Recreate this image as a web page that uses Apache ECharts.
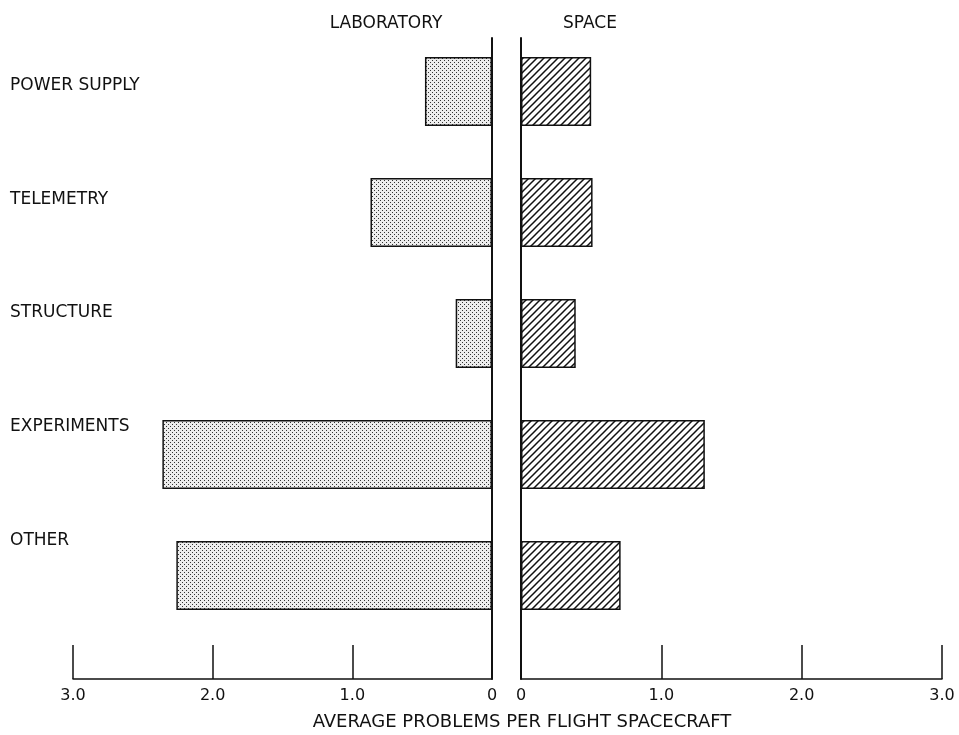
<!DOCTYPE html>
<html>
<head>
<meta charset="utf-8">
<script src="https://cdn.jsdelivr.net/npm/echarts@6/dist/echarts.min.js"></script>
<style>
html,body{margin:0;padding:0;background:#fff;}
#chart{width:959px;height:735px;}
</style>
</head>
<body>
<div id="chart"></div>
<script>
// ---- data ----
const categories = ['POWER SUPPLY', 'TELEMETRY', 'STRUCTURE', 'EXPERIMENTS', 'OTHER'];
const laboratory = [0.48, 0.87, 0.26, 2.36, 2.26];
const space = [0.50, 0.51, 0.39, 1.31, 0.71];
const tickValues = [0, 1, 2, 3];
const panelTitles = ['LABORATORY', 'SPACE'];
const axisTitle = 'AVERAGE PROBLEMS PER FLIGHT SPACECRAFT';

// ---- patterns ----
function dotPattern() {
  const c = document.createElement('canvas');
  c.width = 4; c.height = 4;
  const g = c.getContext('2d');
  g.fillStyle = '#ededed'; g.fillRect(0, 0, 4, 4);
  g.fillStyle = '#333';
  g.fillRect(0, 0, 1, 1);
  g.fillRect(2, 2, 1, 1);
  return c;
}
function hatch() {
  const s = 7;
  const c = document.createElement('canvas');
  c.width = s; c.height = s;
  const g = c.getContext('2d');
  g.fillStyle = '#fff'; g.fillRect(0, 0, s, s);
  g.strokeStyle = '#111'; g.lineWidth = 1.5;
  g.beginPath();
  for (let k = -1; k <= 1; k++) {
    g.moveTo(k * s - 1, s + 1);
    g.lineTo(k * s + s + 1, -1);
  }
  g.stroke();
  return c;
}

const FONT = 'DejaVu Sans';
const txt = '#111';
const chart = echarts.init(document.getElementById('chart'), null, {renderer: 'canvas'});

const tickFmt = v => v === 0 ? '0' : v.toFixed(1);
const option = {
  animation: false,
  backgroundColor: '#fff',
  title: [
    {text: panelTitles[0], left: 381, top: 10, textAlign: 'center',
     textStyle: {fontFamily: FONT, fontSize: 17, fontWeight: 'normal', color: txt}},
    {text: panelTitles[1], left: 585, top: 10, textAlign: 'center',
     textStyle: {fontFamily: FONT, fontSize: 17, fontWeight: 'normal', color: txt}},
    {text: axisTitle, left: 517, top: 708, textAlign: 'center',
     textStyle: {fontFamily: FONT, fontSize: 18, fontWeight: 'normal', color: txt}}
  ],
  grid: [
    {left: 160, top: 29, width: 1, height: 568},           // category labels
    {left: 73, top: 31, width: 419, height: 605},          // lab bars
    {left: 521, top: 31, width: 421, height: 605},         // space bars
    {left: 73, top: 38, width: 419, height: 641},          // lab axes
    {left: 521, top: 38, width: 421, height: 641}          // space axes
  ],
  xAxis: [
    {gridIndex: 0, type: 'value', show: false},
    {gridIndex: 1, type: 'value', min: 0, max: 3, inverse: true, show: false},
    {gridIndex: 2, type: 'value', min: 0, max: 3, show: false},
    {gridIndex: 3, type: 'value', min: tickValues[0], max: tickValues[3], interval: 1, inverse: true,
     axisLine: {show: true, onZero: false, lineStyle: {color: '#111', width: 1.5}},
     axisTick: {show: true, inside: true, length: 34, lineStyle: {color: '#111', width: 1.5}},
     axisLabel: {margin: 9, fontFamily: FONT, fontSize: 16, color: txt, formatter: tickFmt},
     splitLine: {show: false}},
    {gridIndex: 4, type: 'value', min: tickValues[0], max: tickValues[3], interval: 1,
     axisLine: {show: true, onZero: false, lineStyle: {color: '#111', width: 1.5}},
     axisTick: {show: true, inside: true, length: 34, lineStyle: {color: '#111', width: 1.5}},
     axisLabel: {margin: 9, fontFamily: FONT, fontSize: 16, color: txt, formatter: tickFmt},
     splitLine: {show: false}}
  ],
  yAxis: [
    {gridIndex: 0, type: 'category', inverse: true, data: categories,
     axisLine: {show: false}, axisTick: {show: false},
     axisLabel: {margin: 150, align: 'left', fontFamily: FONT, fontSize: 17, color: txt}},
    {gridIndex: 1, type: 'category', inverse: true, data: categories, show: false},
    {gridIndex: 2, type: 'category', inverse: true, data: categories, show: false},
    {gridIndex: 3, type: 'value', min: 0, max: 1, position: 'right',
     axisLine: {show: true, onZero: false, lineStyle: {color: '#111', width: 2}},
     axisTick: {show: false}, axisLabel: {show: false}, splitLine: {show: false}},
    {gridIndex: 4, type: 'value', min: 0, max: 1, position: 'left',
     axisLine: {show: true, onZero: false, lineStyle: {color: '#111', width: 2}},
     axisTick: {show: false}, axisLabel: {show: false}, splitLine: {show: false}}
  ],
  series: [
    {type: 'bar', name: panelTitles[0], xAxisIndex: 1, yAxisIndex: 1, data: laboratory,
     barWidth: 69, silent: true,
     itemStyle: {color: {image: dotPattern(), repeat: 'repeat'}, borderColor: '#111', borderWidth: 1.5}},
    {type: 'bar', name: panelTitles[1], xAxisIndex: 2, yAxisIndex: 2, data: space,
     barWidth: 69, silent: true,
     itemStyle: {color: {image: hatch(), repeat: 'repeat'}, borderColor: '#111', borderWidth: 1.5}}
  ]
};
chart.setOption(option);
</script>
</body>
</html>
